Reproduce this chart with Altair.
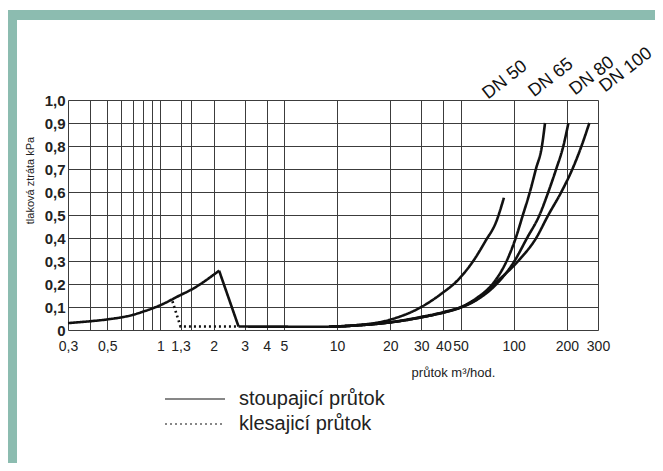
import altair as alt
import pandas as pd

FONT = "Liberation Sans"
SOLID = "stoupajicí průtok"
DOTTED = "klesajicí průtok"

# rising flow: common low-flow part
rise_x = [0.3, 0.4, 0.5, 0.7, 0.8, 1.0, 1.3, 1.5, 2.15]
rise_y = [0.030, 0.038, 0.046, 0.066, 0.080, 0.108, 0.152, 0.176, 0.258]
drop_x = [2.15, 2.77]
drop_y = [0.258, 0.015]
flat_x = [2.77, 9.0]
flat_y = [0.015, 0.014]

# DN branches
dn50_x = [9, 12.5, 20, 30, 39, 48, 59, 69, 80, 88]
dn50_y = [0.014, 0.02, 0.045, 0.10, 0.158, 0.215, 0.30, 0.385, 0.475, 0.575]
dn65_x = [9, 12.5, 20, 30, 40, 50.4, 62, 75.9, 91.2, 102.7, 112.7, 123.5, 133.6, 144.5, 150.4]
dn65_y = [0.014, 0.02, 0.034, 0.057, 0.078, 0.10, 0.14, 0.20, 0.30, 0.40, 0.50, 0.60, 0.70, 0.80, 0.90]
dn80_x = [9, 12.5, 20, 30, 40, 50.3, 63, 80, 101, 119, 140, 157, 174, 191, 204]
dn80_y = [0.014, 0.019, 0.033, 0.055, 0.076, 0.098, 0.135, 0.20, 0.30, 0.40, 0.50, 0.60, 0.70, 0.80, 0.90]
dn100_x = [9, 12.5, 20, 30, 40, 50, 63, 77.5, 106, 134, 157, 186, 215, 242, 268]
dn100_y = [0.014, 0.019, 0.033, 0.055, 0.076, 0.098, 0.137, 0.20, 0.30, 0.40, 0.50, 0.60, 0.70, 0.80, 0.90]

# falling flow (dotted)
fall_x = [1.17, 1.3, 2.77]
fall_y = [0.125, 0.015, 0.015]

# DN labels
dn_names = ["DN 50", "DN 65", "DN 80", "DN 100"]
dn_label_x = [89.3, 162.6, 277.5, 432]
dn_label_y = [1.087, 1.096, 1.104, 1.13]

# axes
grid_x = [0.3, 0.4, 0.5, 0.6, 0.7, 0.8, 0.9, 1, 1.3, 1.5, 2, 3, 4, 5, 10, 20, 30, 40, 50, 100, 200, 300]
label_x = [0.3, 0.5, 1, 1.3, 2, 3, 4, 5, 10, 20, 30, 40, 50, 100, 200, 300]
y_ticks = [0, 0.1, 0.2, 0.3, 0.4, 0.5, 0.6, 0.7, 0.8, 0.9, 1.0]

rows = []
def add(seg, kind, xs, ys):
    for a, b in zip(xs, ys):
        rows.append({"x": a, "y": b, "seg": seg, "kind": kind})

add("rise", SOLID, rise_x, rise_y)
add("drop", SOLID, drop_x, drop_y)
add("flat", SOLID, flat_x, flat_y)
add("dn50", SOLID, dn50_x, dn50_y)
add("dn65", SOLID, dn65_x, dn65_y)
add("dn80", SOLID, dn80_x, dn80_y)
add("dn100", SOLID, dn100_x, dn100_y)
add("fall", DOTTED, fall_x, fall_y)
df = pd.DataFrame(rows)

labels_df = pd.DataFrame({"name": dn_names, "x": dn_label_x, "y": dn_label_y})

xscale = alt.Scale(type="log", domain=[0.3, 300])
yscale = alt.Scale(domain=[0, 1])
dash_scale = alt.Scale(domain=[SOLID, DOTTED], range=[[1, 0], [2, 3]])

label_list = "[" + ",".join(str(v) for v in label_x) + "]"
x_axis = alt.Axis(
    values=grid_x, format="~g",
    labelExpr="indexof(" + label_list + ", datum.value) >= 0 ? replace(datum.label, '.', ',') : ''",
    labelOverlap=False, labelFlush=False, labelFontSize=14, labelPadding=9,
    labelColor="#222", labelFont=FONT,
    ticks=False, domain=False, grid=True, gridColor="#3c3c3c", gridWidth=1, gridOpacity=1,
    title="průtok m³/hod.", titleFontSize=13, titleFontWeight="normal", titleFont=FONT,
    titleColor="#222", titleX=385, titleY=42, titleBaseline="middle", titleAlign="center",
)
y_axis = alt.Axis(
    values=y_ticks,
    labelExpr="datum.value == 0 ? '0' : replace(format(datum.value, '.1f'), '.', ',')",
    labelOverlap=False, labelFlush=False,
    labelFontSize=15, labelFontWeight="bold", labelPadding=3, labelColor="#222", labelFont=FONT,
    ticks=False, domain=False, grid=True, gridColor="#3c3c3c", gridWidth=1, gridOpacity=1,
    title="tlaková ztráta kPa", titleFontSize=11, titleFontWeight="normal", titleFont=FONT,
    titleColor="#222", titleX=-38, titleY=80, titleAngle=270, titleAlign="center",
    titleBaseline="middle",
)

legend = alt.Legend(
    title=None, orient="none", legendX=117, legendY=289,
    symbolType="M-4,0H4", symbolSize=225, symbolStrokeWidth=1.2,
    symbolStrokeColor="#111", symbolFillColor="transparent",
    labelFontSize=20, labelFont=FONT, labelColor="#222", labelOffset=34,
    rowPadding=5, padding=0,
)

band_df = pd.DataFrame({"a": [0]})
top_band = alt.Chart(band_df).mark_rect(color="#8cbcb0").encode(
    x=alt.value(-60), x2=alt.value(700), y=alt.value(-90), y2=alt.value(-80)
)
left_band = alt.Chart(band_df).mark_rect(color="#8cbcb0").encode(
    x=alt.value(-60), x2=alt.value(-51), y=alt.value(-90), y2=alt.value(400)
)

X = alt.X("x:Q", scale=xscale, axis=x_axis)
Y = alt.Y("y:Q", scale=yscale, axis=y_axis)

solid = alt.Chart(df[df.kind == SOLID]).mark_line(
    interpolate="monotone", color="#111", strokeWidth=2.6
).encode(
    x=X, y=Y,
    detail="seg:N",
    strokeDash=alt.StrokeDash("kind:N", scale=dash_scale, legend=legend),
)
dotted = alt.Chart(df[df.kind == DOTTED]).mark_line(
    color="#111", strokeWidth=2.6
).encode(
    x=X, y=Y,
    detail="seg:N",
    strokeDash=alt.StrokeDash("kind:N", scale=dash_scale, legend=legend),
)
texts = alt.Chart(labels_df).mark_text(
    angle=322, fontSize=18, font=FONT, color="#111", align="center", baseline="middle"
).encode(
    x=X, y=Y,
    text="name:N",
)

chart = alt.layer(top_band, left_band, solid, dotted, texts).properties(
    width=530, height=230,
    padding={"left": 60, "top": 92, "right": 57, "bottom": 133},
    autosize=alt.AutoSizeParams(type="none"),
    background="white",
).configure_view(strokeWidth=0).configure(font=FONT)

chart.save("out.html", embed_options={"renderer": "svg", "actions": False})
